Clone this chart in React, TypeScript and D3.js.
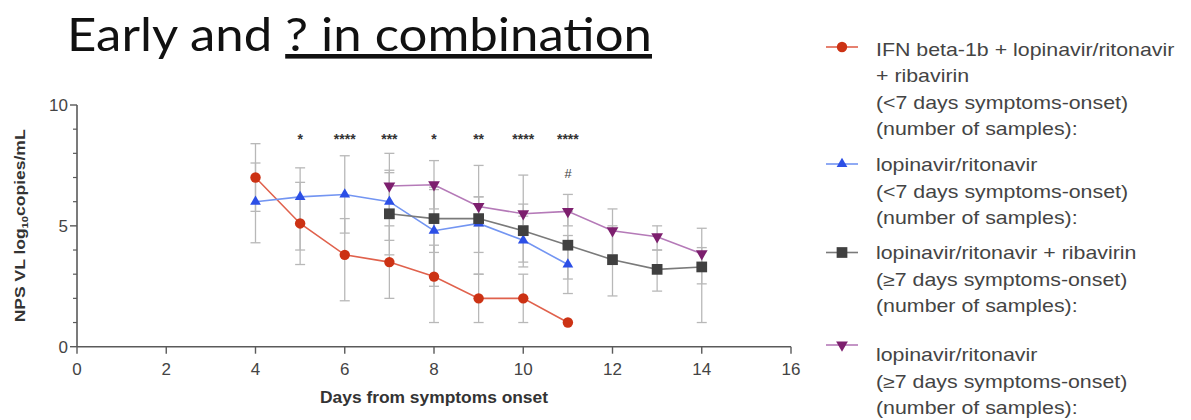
import React, { useEffect, useRef } from 'react';
import * as d3 from 'd3';

// days on the x axis for each group
const earlyDays = [4, 5, 6, 7, 8, 9, 10, 11];
const lateDays = [7, 8, 9, 10, 11, 12, 13, 14];

// IFN beta-1b + lopinavir/ritonavir + ribavirin (<7 days)
const ifnMean = [7.0, 5.1, 3.8, 3.5, 2.9, 2.0, 2.0, 1.0];
const ifnLow = [5.6, 3.4, 1.9, 2.0, 1.0, 1.0, 1.0, 1.0];
const ifnHigh = [8.4, 6.8, 5.3, 5.0, 4.2, 3.0, 3.0, 1.0];

// lopinavir/ritonavir (<7 days)
const lpvEarlyMean = [6.0, 6.2, 6.3, 6.0, 4.8, 5.1, 4.4, 3.4];
const lpvEarlyLow = [4.3, 4.0, 4.7, 4.4, 3.9, 3.9, 3.5, 2.2];
const lpvEarlyHigh = [7.6, 7.4, 7.9, 7.3, 6.5, 6.2, 5.4, 4.6];

// lopinavir/ritonavir + ribavirin (>=7 days)
const ribaMean = [5.5, 5.3, 5.3, 4.8, 4.2, 3.6, 3.2, 3.3];
const ribaLow = [3.8, 2.5, 3.0, 3.3, 2.8, 2.1, 2.3, 1.0];
const ribaHigh = [7.2, 6.6, 7.5, 7.1, 5.6, 5.0, 4.0, 4.1];

// lopinavir/ritonavir (>=7 days)
const lpvLateMean = [6.65, 6.7, 5.8, 5.5, 5.6, 4.8, 4.55, 3.85];
const lpvLateLow = [5.3, 5.7, 5.0, 5.0, 5.0, 3.8, 4.0, 2.6];
const lpvLateHigh = [8.0, 7.7, 6.2, 5.9, 6.3, 5.7, 5.0, 4.9];

// significance marks
const starDays = [5, 6, 7, 8, 9, 10, 11];
const starLabels = ['*', '****', '***', '*', '**', '****', '****'];
const hashDay = 11;
const hashValue = 7.0;

const xTicks = [0, 2, 4, 6, 8, 10, 12, 14, 16];
const yTicks = [0, 5, 10];
const yMinor = [1, 2, 3, 4, 6, 7, 8, 9];

const series = [
  {
    days: earlyDays, mean: ifnMean, low: ifnLow, high: ifnHigh,
    line: '#e0614c', fill: '#cc3214', symbol: d3.symbolCircle, size: 85, rot: 0,
    legend: ['IFN beta-1b + lopinavir/ritonavir', '+ ribavirin', '(<7 days symptoms-onset)', '(number of samples):'],
  },
  {
    days: earlyDays, mean: lpvEarlyMean, low: lpvEarlyLow, high: lpvEarlyHigh,
    line: '#7395f2', fill: '#2c4fe6', symbol: d3.symbolTriangle, size: 50, rot: 0,
    legend: ['lopinavir/ritonavir', '(<7 days symptoms-onset)', '(number of samples):'],
  },
  {
    days: lateDays, mean: ribaMean, low: ribaLow, high: ribaHigh,
    line: '#7a7a7a', fill: '#404040', symbol: d3.symbolSquare, size: 115, rot: 0,
    legend: ['lopinavir/ritonavir + ribavirin', '(\u22657 days symptoms-onset)', '(number of samples):'],
  },
  {
    days: lateDays, mean: lpvLateMean, low: lpvLateLow, high: lpvLateHigh,
    line: '#b57ab8', fill: '#7d1f6e', symbol: d3.symbolTriangle, size: 60, rot: 180,
    legend: ['lopinavir/ritonavir', '(\u22657 days symptoms-onset)', '(number of samples):'],
  },
];

const legendBaseline = [56, 171.5, 259.5, 361.5];
const legendMarkerY = [47, 164, 252.5, 345];

const W = 1191;
const H = 420;

export default function App() {
  const ref = useRef<SVGSVGElement>(null);

  useEffect(() => {
    const svg = d3.select(ref.current);
    svg.selectAll('*').remove();

    const x = d3.scaleLinear().domain([0, 16]).range([77, 791]);
    const y = d3.scaleLinear().domain([0, 10]).range([346.7, 105]);
    const font = '"Liberation Sans", Arial, sans-serif';

    // title
    const title = svg.append('text')
      .attr('x', 67).attr('y', 51)
      .attr('font-family', 'Lato, sans-serif')
      .attr('font-size', 46)
      .attr('fill', '#111')
      .attr('textLength', 585)
      .attr('lengthAdjust', 'spacingAndGlyphs');
    title.append('tspan').text('Early and ');
    title.append('tspan').attr('text-decoration', 'underline').text('? in combination');

    // axes
    const axisColor = '#5a5a5a';
    const g = svg.append('g');
    g.append('line').attr('x1', x(0)).attr('x2', x(16)).attr('y1', y(0)).attr('y2', y(0))
      .attr('stroke', axisColor).attr('stroke-width', 1.6);
    g.append('line').attr('x1', x(0)).attr('x2', x(0)).attr('y1', y(0)).attr('y2', y(10))
      .attr('stroke', axisColor).attr('stroke-width', 1.6);

    g.selectAll('.xt').data(xTicks).join('line')
      .attr('x1', (d) => x(d)).attr('x2', (d) => x(d))
      .attr('y1', y(0)).attr('y2', y(0) + 7)
      .attr('stroke', axisColor).attr('stroke-width', 1.4);
    g.selectAll('.xl').data(xTicks).join('text')
      .attr('x', (d) => x(d)).attr('y', y(0) + 28)
      .attr('text-anchor', 'middle')
      .attr('font-family', font).attr('font-size', 17).attr('fill', '#444')
      .text((d) => d);

    g.selectAll('.yt').data(yTicks).join('line')
      .attr('x1', x(0) - 7).attr('x2', x(0))
      .attr('y1', (d) => y(d)).attr('y2', (d) => y(d))
      .attr('stroke', axisColor).attr('stroke-width', 1.4);
    g.selectAll('.ym').data(yMinor).join('line')
      .attr('x1', x(0) - 4).attr('x2', x(0))
      .attr('y1', (d) => y(d)).attr('y2', (d) => y(d))
      .attr('stroke', axisColor).attr('stroke-width', 1.2);
    g.selectAll('.yl').data(yTicks).join('text')
      .attr('x', x(0) - 9).attr('y', (d) => y(d) + 6)
      .attr('text-anchor', 'end')
      .attr('font-family', font).attr('font-size', 17).attr('fill', '#444')
      .text((d) => d);

    // axis titles
    const yt = svg.append('text')
      .attr('transform', `translate(25, ${y(5)}) rotate(-90) scale(1.25, 1)`)
      .attr('text-anchor', 'middle')
      .attr('font-family', font).attr('font-size', 14).attr('font-weight', 'bold').attr('fill', '#333');
    yt.append('tspan').text('NPS VL log');
    yt.append('tspan').attr('font-size', 9).attr('dy', 3).text('10');
    yt.append('tspan').attr('dy', -3).text('copies/mL');

    svg.append('text')
      .attr('x', 320).attr('y', 403)
      .attr('font-family', font).attr('font-size', 16).attr('font-weight', 'bold').attr('fill', '#333')
      .attr('textLength', 228).attr('lengthAdjust', 'spacingAndGlyphs')
      .text('Days from symptoms onset');

    // error bars
    const eb = svg.append('g').attr('stroke', '#b8b8b8').attr('stroke-width', 1.3);
    series.forEach((s) => {
      s.days.forEach((d, i) => {
        if (s.low[i] === s.high[i]) return;
        eb.append('line').attr('x1', x(d)).attr('x2', x(d))
          .attr('y1', y(s.low[i])).attr('y2', y(s.high[i]));
        [s.low[i], s.high[i]].forEach((v) => {
          eb.append('line').attr('x1', x(d) - 5).attr('x2', x(d) + 5)
            .attr('y1', y(v)).attr('y2', y(v));
        });
      });
    });

    // lines and markers
    const lineGen = d3.line<[number, number]>().x((p) => x(p[0])).y((p) => y(p[1]));
    series.forEach((s) => {
      const pts = s.days.map((d, i) => [d, s.mean[i]] as [number, number]);
      svg.append('path').attr('d', lineGen(pts)).attr('fill', 'none')
        .attr('stroke', s.line).attr('stroke-width', 1.6);
      svg.selectAll(null).data(pts).join('path')
        .attr('d', d3.symbol().type(s.symbol).size(s.size)())
        .attr('transform', (p) => `translate(${x(p[0])}, ${y(p[1])}) rotate(${s.rot})`)
        .attr('fill', s.fill);
    });

    // significance
    svg.selectAll('.star').data(starDays).join('text')
      .attr('x', (d) => x(d)).attr('y', y(8.6) + 5)
      .attr('text-anchor', 'middle')
      .attr('font-family', font).attr('font-size', 14).attr('font-weight', 'bold').attr('fill', '#333')
      .text((d, i) => starLabels[i]);
    svg.append('text')
      .attr('x', x(hashDay)).attr('y', y(hashValue))
      .attr('text-anchor', 'middle')
      .attr('font-family', font).attr('font-size', 13).attr('font-style', 'italic').attr('fill', '#444')
      .text('#');

    // legend
    const lg = svg.append('g');
    series.forEach((s, k) => {
      const my = legendMarkerY[k];
      lg.append('line').attr('x1', 826).attr('x2', 858).attr('y1', my).attr('y2', my)
        .attr('stroke', s.line).attr('stroke-width', 1.6);
      lg.append('path')
        .attr('d', d3.symbol().type(s.symbol).size(s.size)())
        .attr('transform', `translate(842, ${my}) rotate(${s.rot})`)
        .attr('fill', s.fill);
      const tg = lg.append('g').attr('transform', 'translate(876, 0) scale(1.22, 1)');
      s.legend.forEach((t, j) => {
        tg.append('text')
          .attr('x', 0).attr('y', legendBaseline[k] + j * 26.5)
          .attr('font-family', font).attr('font-size', 17.5).attr('fill', '#444')
          .text(t);
      });
    });
  }, []);

  return (
    <svg ref={ref} width={W} height={H} style={{ position: 'absolute', left: 0, top: 0, background: '#fff' }} />
  );
}
